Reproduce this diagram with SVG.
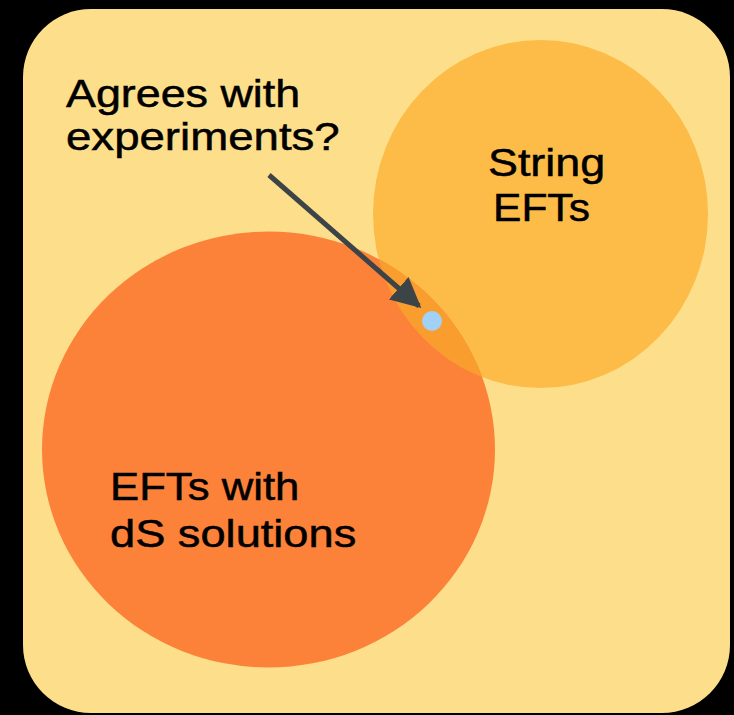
<svg xmlns="http://www.w3.org/2000/svg" width="734" height="715" viewBox="0 0 734 715">
<style>
text{font-family:"Liberation Sans",Arial,sans-serif;font-size:38px;fill:#000;stroke:#000;stroke-width:0.5px}
</style>
<defs>
<clipPath id="cb"><ellipse cx="268.5" cy="449.5" rx="226.5" ry="218"/></clipPath>
<marker id="ah" viewBox="0 0 10 10" refX="9" refY="5" markerWidth="6" markerHeight="6" orient="auto" markerUnits="strokeWidth"><path d="M0,0L10,5L0,10z" fill="#3d4447"/></marker>
</defs>
<rect width="734" height="715" fill="#000"/>
<rect id="frame" x="23" y="9" width="707" height="704" rx="68" fill="#fddf8b"/>
<g id="string-efts">
<ellipse cx="540.5" cy="214" rx="167.5" ry="174" fill="#fdbc48"/>
<text transform="translate(488,176) scale(1.18,1)">String</text>
<text transform="translate(493,221) scale(1.12,1)">EFTs</text>
</g>
<g id="ds-efts">
<ellipse cx="268.5" cy="449.5" rx="226.5" ry="218" fill="#fc8239"/>
<text transform="translate(110,500) scale(1.15,1)">EFTs with</text>
<text transform="translate(110,547) scale(1.19,1)">dS solutions</text>
</g>
<g id="overlap">
<ellipse cx="540.5" cy="214" rx="167.5" ry="174" fill="#f99d2f" clip-path="url(#cb)"/>
<circle cx="432" cy="321" r="10" fill="#a1d1f4"/>
</g>
<g id="label">
<text transform="translate(66,107) scale(1.18,1)">Agrees with</text>
<text transform="translate(66,150) scale(1.2,1)">experiments?</text>
</g>
<g id="connectors">
<line x1="269" y1="175" x2="419" y2="306" stroke="#3d4447" stroke-width="5" marker-end="url(#ah)"/>
</g>
</svg>
